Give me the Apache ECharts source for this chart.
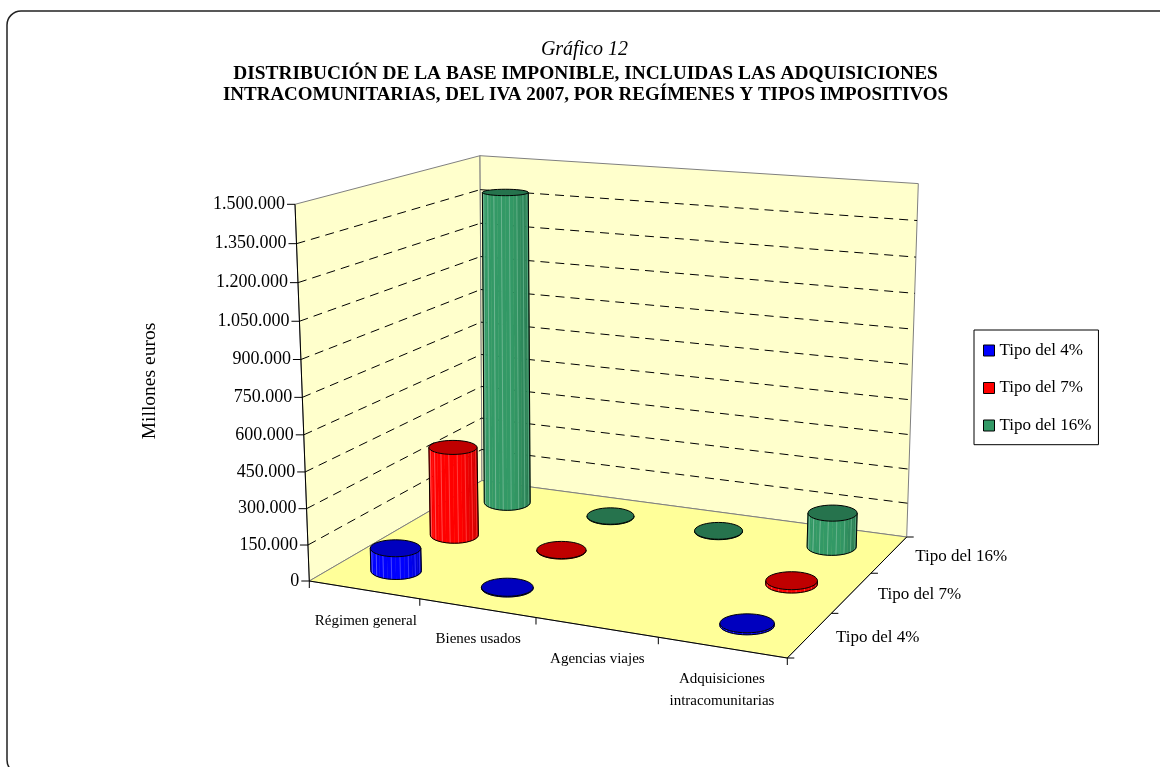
<!DOCTYPE html>
<html><head><meta charset="utf-8">
<script src="https://cdn.jsdelivr.net/npm/echarts@6/dist/echarts.min.js"></script>
<style>html,body{margin:0;padding:0;background:#fff}#c{width:1160px;height:767px}</style>
</head><body><div id="c"></div>
<script>
var categories = ['Régimen general','Bienes usados','Agencias viajes','Adquisiciones\nintracomunitarias'];
var seriesNames = ['Tipo del 4%','Tipo del 7%','Tipo del 16%'];
var tipo4  = [95000, 3000, null, 8000];
var tipo7  = [385000, 2000, null, 14000];
var tipo16 = [1385000, 2000, 2000, 148000];
var valueTicks = [0,150000,300000,450000,600000,750000,900000,1050000,1200000,1350000,1500000];
var axisMax = 1500000;
var FONT = '"Liberation Serif","Times New Roman",serif';

// perspective box of the chart: pixel corners (u: categories, w: depth)
var FLOOR = [[309.3,581],[787.3,658],[906.7,537],[482,480.5]];
var UP = [[-14.3,-376.7],[12.7,-395.7],[11.6,-353.4],[-2,-324.8]];
var GRID = {left:297, top:181, width:500, height:400};

function solveH(q){ // unit square -> quad
  var x0=q[0][0],y0=q[0][1],x1=q[1][0],y1=q[1][1],x2=q[2][0],y2=q[2][1],x3=q[3][0],y3=q[3][1];
  var dx1=x1-x2,dx2=x3-x2,sx=x0-x1+x2-x3,dy1=y1-y2,dy2=y3-y2,sy=y0-y1+y2-y3;
  var d=dx1*dy2-dx2*dy1,g=(sx*dy2-dx2*sy)/d,h=(dx1*sy-sx*dy1)/d;
  return [x1-x0+g*x1,x3-x0+h*x3,x0,y1-y0+g*y1,y3-y0+h*y3,y0,g,h];
}
var HF=solveH(FLOOR);
function depth(u,w){return HF[6]*u+HF[7]*w+1;}
function ap(H,u,w){var d=depth(u,w);return [(H[0]*u+H[1]*w+H[2])/d,(H[3]*u+H[4]*w+H[5])/d];}
function P(u,w,h){
  var a=ap(HF,u,w), hh=h-0.05*h*(1-h);
  function bl(k){return (1-u)*(1-w)*UP[0][k]+u*(1-w)*UP[1][k]+u*w*UP[2][k]+(1-u)*w*UP[3][k];}
  return [a[0]+bl(0)*hh,a[1]+bl(1)*hh];
}
// normalised position from the library's scales
function norm(api,cat,val){
  var p=api.coord([cat,val]);
  return [(p[0]-GRID.left)/GRID.width,(GRID.top+GRID.height-p[1])/GRID.height];
}
function line(a,b,s){return {type:'line',shape:{x1:a[0],y1:a[1],x2:b[0],y2:b[1]},style:Object.assign({stroke:'#000',lineWidth:1,fill:null},s||{}),silent:true};}
function poly(pts,s){return {type:'polygon',shape:{points:pts},style:s,silent:true};}
function txt(x,y,t,align,size,lh){return {type:'text',x:x,y:y,style:{text:t,font:size+'px '+FONT,fill:'#000',align:align,verticalAlign:'middle',lineHeight:lh||size+7},silent:true};}
function fmt(v){return String(v).replace(/\B(?=(\d{3})+$)/g,'.');}

function renderFrame(params,api){
  var k=[], G='#808080';
  k.push(poly([P(0,0,0),P(0,1,0),P(0,1,1),P(0,0,1)],{fill:'#FFFFCC',stroke:G,lineWidth:1}));
  k.push(poly([P(0,1,0),P(1,1,0),P(1,1,1),P(0,1,1)],{fill:'#FFFFCC',stroke:G,lineWidth:1}));
  k.push(poly([P(0,0,0),P(1,0,0),P(1,1,0),P(0,1,0)],{fill:'#FFFF99',stroke:G,lineWidth:1}));
  valueTicks.forEach(function(v){
    var h=norm(api,0,v)[1];
    if(v>0&&v<axisMax){
      k.push(line(P(0,0,h),P(0,1,h),{lineDash:[9,6]}));
      k.push(line(P(0,1,h),P(1,1,h),{lineDash:[9,6]}));
    }
    var a=P(0,0,h);
    k.push(line([a[0]-8,a[1]],a));
    k.push(txt(a[0]-10,a[1],fmt(v),'right',18));
  });
  k.push(line(P(0,0,0),P(0,0,1)));
  k.push(line(P(0,0,0),P(1,0,0)));
  k.push(line(P(1,0,0),P(1,1,0)));
  for(var i=0;i<=categories.length;i++){
    var q=P(i/categories.length,0,0);
    k.push(line(q,[q[0],q[1]+7]));
  }
  for(var j=0;j<=seriesNames.length;j++){
    var r=P(1,j/seriesNames.length,0);
    k.push(line(r,[r[0]+7,r[1]]));
  }
  var catDx=[2,1,1,0], catDy=[31,31,32,43];
  categories.forEach(function(c,i){
    var b=P((i+.5)/categories.length,0,0);
    k.push(txt(b[0]+catDx[i],b[1]+catDy[i],c,'center',15,22));
  });
  seriesNames.forEach(function(n,j){
    var b=P(1,(j+.5)/seriesNames.length,0);
    k.push(txt(b[0]+26,b[1]+2,n,'left',17));
  });
  return {type:'group',children:k};
}

function shade(c,f){return 'rgb('+c.map(function(x){return Math.min(255,Math.round(x*f))}).join(',')+')';}
var RADIUS=25.6, FLAT=0.35, SQUASH=0.65;
function cylinderRenderer(rowIdx,rgb){
  return function(params,api){
    var cat=api.value(0),val=api.value(1);
    if(val==null||isNaN(val))return null;
    var n=norm(api,cat,val),u=n[0]+0.002,h=n[1],w=(rowIdx+.5)/seriesNames.length;
    var rx=RADIUS/depth(u,w), ry0=rx*FLAT, ry1=ry0*(1-SQUASH*h);
    var cb=P(u,w,0),ct=P(u,w,h);
    var N=18,base=[],top=[],ring=[],k=[];
    for(var i=0;i<=N;i++){
      var t=Math.PI*(1-i/N);
      base.push([cb[0]+rx*Math.cos(t),cb[1]+ry0*Math.sin(t)]);
      top.push([ct[0]+rx*Math.cos(t),ct[1]+ry1*Math.sin(t)]);
    }
    for(var a=0;a<36;a++){
      var ta=a/36*2*Math.PI;
      ring.push([ct[0]+rx*Math.cos(ta),ct[1]+ry1*Math.sin(ta)]);
    }
    for(var s=0;s<N;s++){
      var f=s/(N-1),lvl=f<.6?1:1-(f-.6)*.62;
      var col=shade(rgb,lvl);
      k.push(poly([base[s],base[s+1],top[s+1],top[s]],{fill:col,stroke:col,lineWidth:.5}));
    }
    for(var s2=1;s2<N-1;s2+=2){
      var f2=s2/(N-1);
      var lc=rgb.map(function(x){return Math.round(x+(255-x)*.35*(1-f2*.6));});
      k.push(line(base[s2+1],top[s2+1],{stroke:'rgb('+lc.join(',')+')',lineWidth:1}));
    }
    k.push({type:'polyline',shape:{points:base},style:{stroke:'#000',lineWidth:1,fill:null},silent:true});
    k.push(line(base[0],top[0]));
    k.push(line(base[N],top[N]));
    k.push(poly(ring,{fill:shade(rgb,.75),stroke:'#000',lineWidth:1}));
    return {type:'group',children:k};
  };
}
var COLORS=[[0,0,255],[255,0,0],[51,153,102]];
var rows=[tipo4,tipo7,tipo16];
var order=[2,1,0];
var series=[{type:'custom',name:'marco',coordinateSystem:'cartesian2d',silent:true,z:1,
  renderItem:renderFrame,data:[[0,0]],encode:{x:0,y:1},clip:false}];
order.forEach(function(j){
  series.push({type:'custom',name:seriesNames[j],coordinateSystem:'cartesian2d',z:2+(2-j),clip:false,
    itemStyle:{color:'rgb('+COLORS[j].join(',')+')'},
    renderItem:cylinderRenderer(j,COLORS[j]),
    data:rows[j].map(function(v,i){return [i,v];}),encode:{x:0,y:1}});
});
var chart=echarts.init(document.getElementById('c'),null,{renderer:'canvas'});
chart.setOption({
  animation:false,backgroundColor:'#fff',
  textStyle:{fontFamily:FONT},
  title:[
    {text:'Gráfico 12',left:579.5,textAlign:'center',top:35,textStyle:{fontFamily:FONT,fontStyle:'italic',fontWeight:'normal',fontSize:20,color:'#000'}},
    {text:'DISTRIBUCIÓN DE LA BASE IMPONIBLE, INCLUIDAS LAS ADQUISICIONES',left:580.5,textAlign:'center',top:59,textStyle:{fontFamily:FONT,fontWeight:'bold',fontSize:19.4,color:'#000'}},
    {text:'INTRACOMUNITARIAS, DEL IVA 2007, POR REGÍMENES Y TIPOS IMPOSITIVOS',left:580.5,textAlign:'center',top:81,textStyle:{fontFamily:FONT,fontWeight:'bold',fontSize:19,color:'#000'}}
  ],
  grid:GRID,
  xAxis:{type:'category',data:categories,show:false},
  yAxis:{type:'value',min:0,max:axisMax,interval:150000,
    name:'Millones euros',nameLocation:'middle',nameGap:137,nameRotate:90,
    nameTextStyle:{fontFamily:FONT,fontSize:19.5,color:'#000'},
    axisLine:{show:false},axisTick:{show:false},axisLabel:{show:false},splitLine:{show:false}},
  legend:{orient:'vertical',left:974,top:330,padding:[12,7,10.7,9],itemWidth:11,itemHeight:11,itemGap:20.5,
    borderColor:'#000',borderWidth:1,backgroundColor:'#fff',selectedMode:false,
    textStyle:{fontFamily:FONT,fontSize:17,color:'#000'},
    data:seriesNames.map(function(n,j){return {name:n,icon:'rect',itemStyle:{color:'rgb('+COLORS[j].join(',')+')',borderColor:'#000',borderWidth:1}};})},
  graphic:[{type:'rect',z:0,silent:true,shape:{x:7,y:11,width:1400,height:763,r:14},style:{fill:null,stroke:'#222',lineWidth:1.5}}],
  series:series
});
</script></body></html>
